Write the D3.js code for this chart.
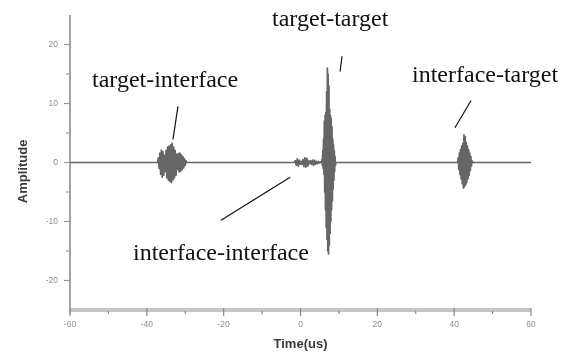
<!DOCTYPE html>
<html>
<head>
<meta charset="utf-8">
<script src="https://cdn.jsdelivr.net/npm/d3@7"></script>
<style>
  body { margin: 0; background: #fff; }
  svg { display: block; }
  .tick-label { font-family: "Liberation Sans", Arial, sans-serif; font-size: 8.5px; fill: #8e8e8e; }
  .axis-title { font-family: "Liberation Sans", Arial, sans-serif; font-size: 13px; font-weight: bold; fill: #3a3a3a; }
  .note { font-family: "Liberation Serif", "Times New Roman", serif; font-size: 24px; fill: #111; }
</style>
</head>
<body>
<svg id="chart" width="569" height="355"></svg>
<script>
//Axis ticks
const TIME_TICKS = [-60, -40, -20, 0, 20, 40, 60];
const TIME_MINOR = [-50, -30, -10, 10, 30, 50];
const AMP_TICKS = [20, 10, 0, -10, -20];
const AMP_MINOR = [15, 5, -5, -15];

//Echo bursts, [time (us), amplitude]
const echoTargetInterface = [
	[-37.2, 0], [-37.0, 0.8], [-36.8, -1.0], [-36.6, 1.6], [-36.4, -2.0], [-36.2, 2.1], [-36.0, -2.5],
	[-35.8, 1.8], [-35.6, -2.2], [-35.4, 1.2], [-35.2, -1.5], [-35.0, 2.0], [-34.8, -2.6], [-34.6, 2.6],
	[-34.4, -3.0], [-34.2, 2.8], [-34.0, -3.2], [-33.8, 3.0], [-33.6, -3.4], [-33.4, 3.3], [-33.2, -3.0],
	[-33.0, 2.6], [-32.8, -2.6], [-32.6, 2.0], [-32.4, -2.2], [-32.2, 1.4], [-32.0, -1.2], [-31.8, 1.5],
	[-31.6, -1.6], [-31.4, 1.6], [-31.2, -1.5], [-31.0, 1.3], [-30.8, -1.2], [-30.6, 1.0], [-30.4, -0.9],
	[-30.2, 0.6], [-30.0, -0.5], [-29.8, 0.3], [-29.6, 0]
];
const echoInterfaceInterface = [
	[-1.6, 0], [-1.35, 0.3], [-1.1, -0.5], [-0.85, 0.6], [-0.6, -0.6], [-0.35, 0.4], [-0.1, -0.3],
	[0.15, 0.2], [0.4, -0.3], [0.65, 0.5], [0.9, -0.7], [1.15, 0.8], [1.4, -0.8], [1.65, 0.7],
	[1.9, -0.6], [2.15, 0.3], [2.4, -0.2], [2.65, 0.3], [2.9, -0.3], [3.15, 0.4], [3.4, -0.5],
	[3.65, 0.4], [3.9, -0.3], [4.15, 0.2], [4.4, -0.2], [4.65, 0.2], [4.9, -0.1], [5.15, 0.1], [5.4, 0]
];
const echoTargetTarget = [
	[5.6, 0.5], [5.7, -0.5], [5.8, 2], [5.9, -1], [6.0, 4], [6.1, -2], [6.2, 7], [6.3, -5],
	[6.4, 8], [6.5, -8], [6.6, 8.5], [6.7, -11], [6.8, 12], [6.9, -13], [7.0, 16], [7.1, -15],
	[7.2, 15], [7.3, -15.5], [7.4, 13], [7.5, -14], [7.6, 9], [7.7, -12], [7.8, 8], [7.9, -10],
	[8.0, 7.5], [8.1, -8], [8.2, 6], [8.3, -6.5], [8.4, 4], [8.5, -4.5], [8.6, 3], [8.7, -3],
	[8.8, 2], [8.9, -1.5], [9.0, 1], [9.1, -0.5], [9.2, 0]
];
const echoInterfaceTarget = [
	[40.9, 0], [41.05, 0.8], [41.2, -1.2], [41.35, 1.6], [41.5, -2.0], [41.65, 2.2], [41.8, -2.8],
	[41.95, 2.8], [42.1, -3.6], [42.25, 3.2], [42.4, -4.3], [42.55, 4.7], [42.7, -4.1], [42.85, 4.4],
	[43.0, -3.8], [43.15, 3.4], [43.3, -3.4], [43.45, 2.8], [43.6, -2.8], [43.75, 2.2], [43.9, -2.2],
	[44.05, 1.6], [44.2, -1.4], [44.35, 1.0], [44.5, -0.6], [44.65, 0.3], [44.8, 0]
];

//Annotations: label, pointer line from/to in data units
const NOTE_LABELS = ["target-interface", "target-target", "interface-target", "interface-interface"];
const NOTE_LINES = [
	[[-31.9, 9.5], [-33.2, 3.9]],
	[[10.8, 18.0], [10.3, 15.4]],
	[[44.4, 10.5], [40.2, 5.9]],
	[[-2.7, -2.5], [-20.7, -9.8]]
];
//Label positions in pixels (left, baseline)
const NOTE_POS = [[92, 87], [272, 26], [412, 82], [133, 260]];

const svg = d3.select("#chart");
const x = d3.scaleLinear().domain([-60, 60]).range([70, 531]);
const y = d3.scaleLinear().domain([-25, 25]).range([310, 15]);

//Slight blur, the original is a soft scan
const defs = svg.append("defs");
defs.append("filter").attr("id", "soft")
	.append("feGaussianBlur").attr("stdDeviation", 0.5);

const plot = svg.append("g").attr("filter", "url(#soft)");

//X axis
const xAxis = plot.append("g").attr("transform", "translate(0," + y(-25) + ")");
xAxis.append("line")
	.attr("x1", x(-60)).attr("x2", x(60))
	.attr("stroke", "#c6c6c6").attr("stroke-width", 4);
xAxis.selectAll(".major").data(TIME_TICKS).enter().append("line")
	.attr("x1", d => x(d)).attr("x2", d => x(d))
	.attr("y1", -2).attr("y2", 6)
	.attr("stroke", "#8a8a8a").attr("stroke-width", 1.2);
xAxis.selectAll(".minor").data(TIME_MINOR).enter().append("line")
	.attr("x1", d => x(d)).attr("x2", d => x(d))
	.attr("y1", 1).attr("y2", 4)
	.attr("stroke", "#8a8a8a").attr("stroke-width", 1.2);
xAxis.selectAll("text").data(TIME_TICKS).enter().append("text")
	.attr("class", "tick-label")
	.attr("x", d => x(d)).attr("y", 17)
	.attr("text-anchor", "middle")
	.text(d => d);

//Y axis
const yAxis = plot.append("g").attr("transform", "translate(" + x(-60) + ",0)");
yAxis.append("line")
	.attr("y1", y(25)).attr("y2", y(-25) + 4)
	.attr("stroke", "#9a9a9a").attr("stroke-width", 1.8);
yAxis.selectAll(".major").data(AMP_TICKS).enter().append("line")
	.attr("x1", -6).attr("x2", 0)
	.attr("y1", d => y(d)).attr("y2", d => y(d))
	.attr("stroke", "#9a9a9a").attr("stroke-width", 1.2);
yAxis.selectAll(".minor").data(AMP_MINOR).enter().append("line")
	.attr("x1", -4).attr("x2", 0)
	.attr("y1", d => y(d)).attr("y2", d => y(d))
	.attr("stroke", "#9a9a9a").attr("stroke-width", 1.2);
yAxis.selectAll("text").data(AMP_TICKS).enter().append("text")
	.attr("class", "tick-label")
	.attr("x", -12).attr("y", d => y(d))
	.attr("dy", "0.35em")
	.attr("text-anchor", "end")
	.text(d => d);

//Axis titles
plot.append("text").attr("class", "axis-title")
	.attr("x", (x(-60) + x(60)) / 2).attr("y", 348)
	.attr("text-anchor", "middle")
	.text("Time(us)");
plot.append("text").attr("class", "axis-title")
	.attr("transform", "translate(27," + y(-1.5) + ") rotate(-90)")
	.attr("text-anchor", "middle")
	.text("Amplitude");

//Signal: flat baseline with the four echoes
const signal = [[-60, 0]]
	.concat(echoTargetInterface, echoInterfaceInterface, echoTargetTarget, echoInterfaceTarget)
	.concat([[60, 0]]);
const line = d3.line().x(d => x(d[0])).y(d => y(d[1]));
plot.append("path")
	.datum(signal)
	.attr("d", line)
	.attr("fill", "none")
	.attr("stroke", "#666")
	.attr("stroke-width", 1.7)
	.attr("stroke-linejoin", "round");

//Annotations
svg.selectAll(".pointer").data(NOTE_LINES).enter().append("line")
	.attr("x1", d => x(d[0][0])).attr("y1", d => y(d[0][1]))
	.attr("x2", d => x(d[1][0])).attr("y2", d => y(d[1][1]))
	.attr("stroke", "#111").attr("stroke-width", 1.2);
svg.selectAll(".note").data(NOTE_LABELS).enter().append("text")
	.attr("class", "note")
	.attr("x", (d, i) => NOTE_POS[i][0])
	.attr("y", (d, i) => NOTE_POS[i][1])
	.text(d => d);
</script>
</body>
</html>
